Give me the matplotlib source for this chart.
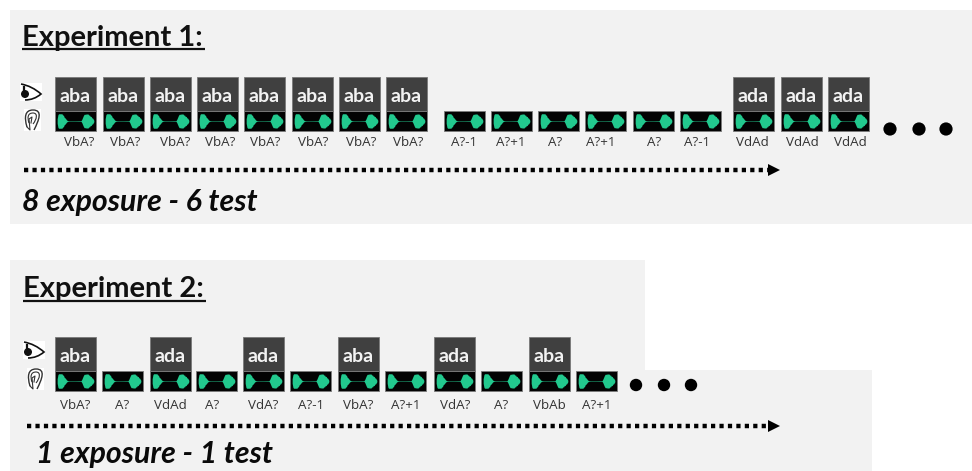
import matplotlib
matplotlib.use("Agg")
import matplotlib.pyplot as plt
from matplotlib.patches import Rectangle, Circle, Polygon, PathPatch
from matplotlib.path import Path

# ---- content ----
exp1_title = "Experiment 1:"
exp1_caption = "8 exposure - 6 test"
exp1_visual = ["aba"] * 8 + [""] * 6 + ["ada"] * 3
exp1_labels = ["VbA?"] * 8 + ["A?-1", "A?+1", "A?", "A?+1", "A?", "A?-1"] + ["VdAd"] * 3

exp2_title = "Experiment 2:"
exp2_caption = "1 exposure - 1 test"
exp2_visual = ["aba", "", "ada", "", "ada", "", "aba", "", "ada", "", "aba", ""]
exp2_labels = ["VbA?", "A?", "VdAd", "A?", "VdA?", "A?-1", "VbA?", "A?+1", "VdA?", "A?", "VbAb", "A?+1"]

# ---- layout (pixels) ----
exp1_x = [55, 103, 150, 197, 244, 292, 339, 386, 444, 491, 538, 585, 633, 680, 733, 781, 828]
exp1_lab_x = [79, 125, 175, 220, 265, 313, 361, 408, 464, 511, 555, 601, 654, 697, 752, 802, 850]
exp2_x = [55, 102, 150, 196, 243, 290, 338, 385, 434, 481, 529, 576]
exp2_lab_x = [75, 122, 170, 212, 263, 311, 358, 406, 455, 501, 549, 597]

# waveform envelope: relative amplitude along a tile
wave_pos = [0.03, 0.05, 0.07, 0.09, 0.11, 0.13, 0.15, 0.17, 0.19, 0.21, 0.23, 0.25, 0.27, 0.30, 0.34, 0.50, 0.64,
            0.66, 0.68, 0.70, 0.72, 0.74, 0.76, 0.78, 0.80, 0.82, 0.84, 0.86, 0.88, 0.90, 0.92, 0.94, 0.97]
wave_amp = [0.30, 0.85, 1.00, 0.92, 1.00, 0.95, 0.98, 0.80, 0.78, 0.50, 0.42, 0.30, 0.14, 0.05, 0.03, 0.03, 0.04,
            0.20, 0.45, 0.70, 0.88, 0.92, 0.85, 1.00, 0.90, 0.95, 0.78, 0.80, 0.60, 0.62, 0.42, 0.38, 0.10]

fig = plt.figure(figsize=(9.72, 4.71), dpi=100, facecolor="white")
ax = fig.add_axes([0, 0, 1, 1])
ax.set_xlim(0, 972)
ax.set_ylim(471, 0)
ax.axis("off")

PANEL = "#f2f2f2"
ax.add_patch(Rectangle((10, 10), 962, 214, fc=PANEL, ec="none"))
ax.add_patch(Rectangle((10, 260), 635, 112, fc=PANEL, ec="none"))
ax.add_patch(Rectangle((10, 370), 862, 101, fc=PANEL, ec="none"))

W = 41


def tile(x, top, vis, label, lab_x, lab_y):
    a_top = top + 34
    a_h = 20
    ax.add_patch(Rectangle((x, a_top), W, a_h, fc="#030303", ec="#7a7a7a", lw=0.6, zorder=3))
    xs = [x + 1 + p * (W - 2) for p in wave_pos]
    mid = a_top + a_h / 2
    up = [mid - 7.5 * a for a in wave_amp]
    dn = [mid + 7.5 * a for a in wave_amp]
    ax.fill_between(xs, up, dn, color="#22c98e", lw=0, zorder=4)
    if vis:
        ax.add_patch(Rectangle((x, top), W, 34, fc="#404040", ec="#7a7a7a", lw=0.6, zorder=3))
        ax.text(x + W / 2, top + 20, vis, color="#f2f2f2", fontsize=14, fontweight="bold",
                family="Lato", ha="center", va="center", zorder=5)
    ax.text(lab_x, lab_y, label, color="#333333", fontsize=9.6, family="Open Sans",
            ha="center", va="center", zorder=5)


for x, v, l, lx in zip(exp1_x, exp1_visual, exp1_labels, exp1_lab_x):
    tile(x, 77, v, l, lx, 142)
for x, v, l, lx in zip(exp2_x, exp2_visual, exp2_labels, exp2_lab_x):
    tile(x, 337, v, l, lx, 405.5)

for cx in (890, 919, 946):
    ax.add_patch(Circle((cx, 129), 6.6, fc="black", ec="none", zorder=5))
for cx in (636, 664, 691):
    ax.add_patch(Circle((cx, 385), 6.2, fc="black", ec="none", zorder=5))


def arrow(x0, x1, y):
    ax.plot([x0, x1 - 10], [y, y], color="black", lw=3.2, dashes=(0.95, 0.95), zorder=5,
            solid_capstyle="butt", dash_capstyle="butt")
    ax.add_patch(Polygon([(x1 - 12, y - 6), (x1, y), (x1 - 12, y + 6)], fc="black", ec="none", zorder=5))


arrow(24, 780, 170)
arrow(27, 780, 426)


def title(x, y, s, x1):
    ax.text(x, y, s, fontsize=21, fontweight="bold", family="Lato", color="#111111", ha="left", va="center")
    ax.plot([x, x1], [49 if y < 100 else 301, 49 if y < 100 else 301], color="#111111", lw=1.6,
            solid_capstyle="butt")


title(22, 38, exp1_title, 205)
title(23, 289, exp2_title, 206)

ax.text(22, 202, exp1_caption, fontsize=21.8, fontweight="bold", style="italic", family="Lato",
        color="#0a0a0a", ha="left", va="center")
ax.text(36, 454, exp2_caption, fontsize=21.8, fontweight="bold", style="italic", family="Lato",
        color="#0a0a0a", ha="left", va="center")


def eye(x, y):
    ax.add_patch(Rectangle((x, y), 22, 18, fc="white", ec="none", zorder=4))
    codes = [Path.MOVETO, Path.CURVE3, Path.CURVE3, Path.CURVE3, Path.CURVE3]
    verts = [(x + 1, y + 1), (x + 12, y + 3), (x + 21, y + 11), (x + 14, y + 17), (x + 5, y + 17)]
    ax.add_patch(PathPatch(Path(verts, codes), fc="none", ec="#111111", lw=1.2, zorder=5))
    ax.add_patch(Circle((x + 5, y + 11), 4.0, fc="#111111", ec="none", zorder=6))
    ax.plot([x + 4, x + 4], [y + 4, y + 8], color="#111111", lw=1.6, zorder=6)


def ear(x, y):
    ax.add_patch(Rectangle((x, y), 17, 22, fc="white", ec="none", zorder=4))
    codes = [Path.MOVETO, Path.CURVE4, Path.CURVE4, Path.CURVE4, Path.CURVE4, Path.CURVE4, Path.CURVE4]
    verts = [(x + 3, y + 18), (x + 0, y + 8), (x + 1, y + 1), (x + 9, y + 1),
             (x + 19, y + 1), (x + 15, y + 11), (x + 10, y + 21)]
    ax.add_patch(PathPatch(Path(verts, codes), fc="none", ec="#333333", lw=1.0, zorder=5))
    inner = [(x + 5, y + 14), (x + 3, y + 8), (x + 4, y + 4), (x + 9, y + 4),
             (x + 14, y + 4), (x + 13, y + 10), (x + 9, y + 15)]
    ax.add_patch(PathPatch(Path(inner, codes), fc="none", ec="#333333", lw=0.8, zorder=5))
    ax.plot([x + 3, x + 6, x + 5, x + 8, x + 7], [y + 18, y + 21, y + 10, y + 8, y + 14],
            color="#333333", lw=0.8, zorder=5)


eye(20, 83)
ear(24, 109)
eye(23, 341)
ear(27, 368)

fig.savefig("out.png", dpi=100, facecolor="white")
